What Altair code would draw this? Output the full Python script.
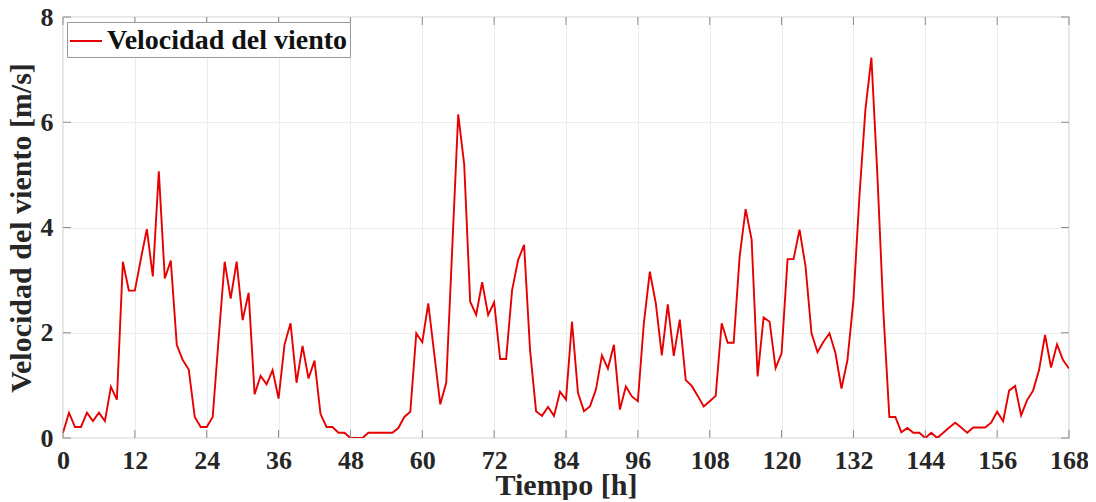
import altair as alt
import pandas as pd

hours = list(range(0, 169))
speed = [
    0.1, 0.48, 0.21, 0.21, 0.48, 0.32, 0.48, 0.32, 0.97, 0.73,
    3.35, 2.8, 2.8, 3.4, 3.97, 3.07, 5.07, 3.03, 3.37, 1.77,
    1.48, 1.3, 0.4, 0.21, 0.21, 0.4, 1.9, 3.35, 2.65, 3.35,
    2.24, 2.76, 0.83, 1.18, 1.02, 1.29, 0.75, 1.78, 2.18, 1.05,
    1.75, 1.13, 1.47, 0.46, 0.21, 0.21, 0.1, 0.1, 0.0, 0.0,
    0.0, 0.1, 0.1, 0.1, 0.1, 0.1, 0.19, 0.4, 0.5, 1.99,
    1.82, 2.56, 1.6, 0.64, 1.05, 3.6, 6.15, 5.2, 2.59, 2.34,
    2.96, 2.34, 2.58, 1.5, 1.5, 2.81, 3.38, 3.67, 1.67, 0.51,
    0.42, 0.59, 0.42, 0.88, 0.73, 2.21, 0.86, 0.51, 0.6, 0.92,
    1.57, 1.32, 1.77, 0.54, 0.98, 0.79, 0.7, 2.18, 3.16, 2.56,
    1.57, 2.54, 1.56, 2.25, 1.1, 0.99, 0.8, 0.6, 0.7, 0.8,
    2.18, 1.81, 1.81, 3.45, 4.35, 3.77, 1.17, 2.29, 2.21, 1.33,
    1.61, 3.4, 3.4, 3.96, 3.26, 1.99, 1.63, 1.83, 1.99, 1.61,
    0.94, 1.48, 2.62, 4.59, 6.24, 7.23, 5.0, 2.4, 0.4, 0.4,
    0.11, 0.19, 0.1, 0.1, 0.0, 0.1, 0.0, 0.1, 0.2, 0.29,
    0.2, 0.1, 0.2, 0.2, 0.2, 0.29, 0.5, 0.32, 0.9, 0.99,
    0.43, 0.72, 0.9, 1.29, 1.96, 1.34, 1.78, 1.48, 1.32,
]
x_ticks = list(range(0, 169, 12))
y_ticks = [0, 2, 4, 6, 8]
series_name = "Velocidad del viento"

W, H = 1006, 421
FONT = "Liberation Serif"
TICK_COLOR = "#8c8c8c"
TEXT_COLOR = "#262626"

df = pd.DataFrame({"t": hours, "v": speed, "serie": series_name})
xt = pd.DataFrame({"t": x_ticks})
yt = pd.DataFrame({"v": y_ticks})

xscale = alt.Scale(domain=[0, 168], nice=False, zero=False)
yscale = alt.Scale(domain=[0, 8], nice=False)

x_axis = alt.Axis(values=x_ticks, title="Tiempo [h]", ticks=False, domain=False,
                  labelPadding=9, titlePadding=-3, labelFlush=False,
                  grid=True, gridColor="#ececec", gridWidth=1,
                  labelFont=FONT, labelFontSize=26, labelFontWeight="bold",
                  labelColor=TEXT_COLOR, titleFont=FONT, titleFontSize=30,
                  titleFontWeight="bold", titleColor=TEXT_COLOR)
y_axis = alt.Axis(values=y_ticks, title="Velocidad del viento [m/s]", ticks=False,
                  domain=False, labelPadding=10, titlePadding=4, labelFlush=False,
                  grid=True, gridColor="#ececec", gridWidth=1,
                  labelFont=FONT, labelFontSize=26, labelFontWeight="bold",
                  labelColor=TEXT_COLOR, titleFont=FONT, titleFontSize=30,
                  titleFontWeight="bold", titleColor=TEXT_COLOR)


def X(field):
    return alt.X(field, scale=xscale, axis=x_axis)


def Y(field):
    return alt.Y(field, scale=yscale, axis=y_axis)


line = alt.Chart(df).mark_line(strokeWidth=1.9, clip=True).encode(
    x=X("t:Q"),
    y=Y("v:Q"),
    color=alt.Color("serie:N",
                    scale=alt.Scale(domain=[series_name], range=["#e60000"]),
                    legend=alt.Legend(title=None, orient="none", legendX=4, legendY=5,
                                      symbolType="stroke", symbolSize=1024,
                                      symbolStrokeWidth=2, labelFont=FONT,
                                      labelFontSize=28, labelFontWeight="bold",
                                      labelColor="#111111", labelOffset=4,
                                      fillColor="white", strokeColor="#9a9a9a",
                                      padding=2, labelLimit=400)),
)

xb = alt.Chart(xt).mark_rule(color=TICK_COLOR, strokeWidth=1).encode(
    x=X("t:Q"), y=alt.value(H), y2=alt.value(H - 8))
xtop = alt.Chart(xt).mark_rule(color=TICK_COLOR, strokeWidth=1).encode(
    x=X("t:Q"), y=alt.value(0), y2=alt.value(8))
yl = alt.Chart(yt).mark_rule(color=TICK_COLOR, strokeWidth=1).encode(
    y=Y("v:Q"), x=alt.value(0), x2=alt.value(8))
yr = alt.Chart(yt).mark_rule(color=TICK_COLOR, strokeWidth=1).encode(
    y=Y("v:Q"), x=alt.value(W), x2=alt.value(W - 8))

chart = alt.layer(line, xb, xtop, yl, yr).properties(
    width=W, height=H,
    background="white",
    autosize=alt.AutoSizeParams(type="none"),
    padding={"left": 55, "top": 9, "right": 19, "bottom": 62},
).configure_view(
    stroke="#a0a0a0", strokeWidth=1.2
)

chart.save("out.html", embed_options={"renderer": "svg", "actions": False})
